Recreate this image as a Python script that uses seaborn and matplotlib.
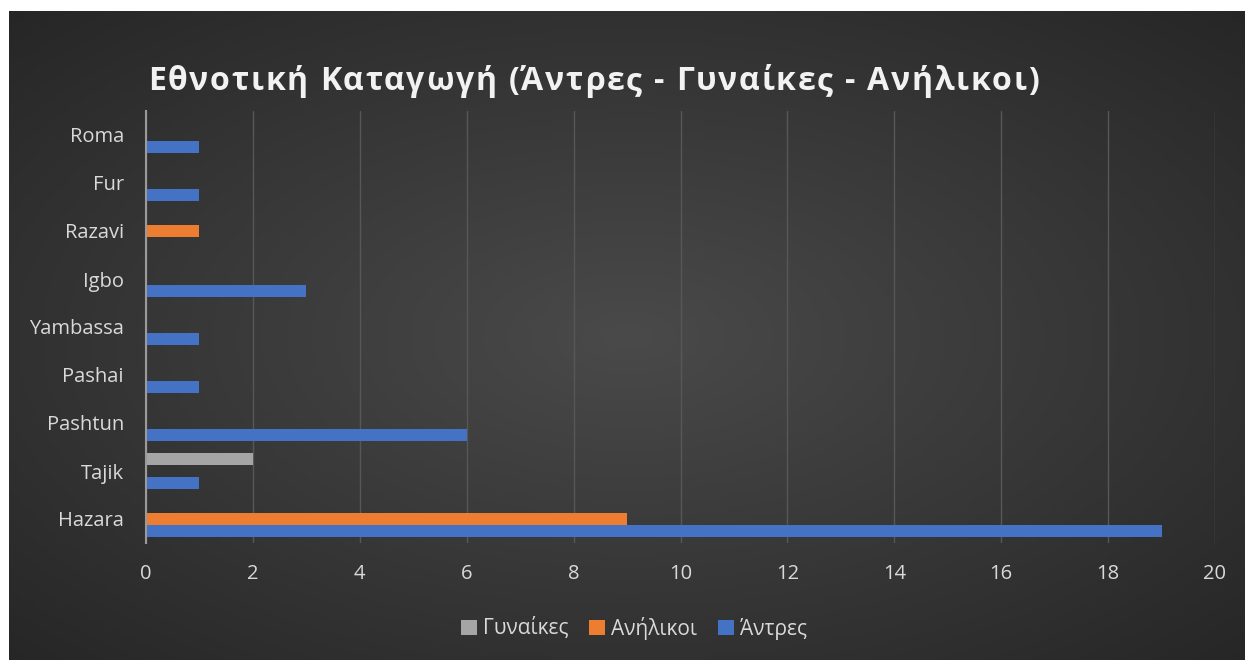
import numpy as np
import pandas as pd
import seaborn as sns
import matplotlib.pyplot as plt
from matplotlib.patches import Patch

sns.set_theme(style="dark")
plt.rcParams['font.family'] = ['Open Sans', 'DejaVu Sans']

# Data (top to bottom as shown)
categories = ['Roma', 'Fur', 'Razavi', 'Igbo', 'Yambassa', 'Pashai', 'Pashtun', 'Tajik', 'Hazara']
men = [1, 1, 0, 3, 1, 1, 6, 1, 19]
minors = [0, 0, 1, 0, 0, 0, 0, 0, 9]
women = [0, 0, 0, 0, 0, 0, 0, 2, 0]
series = ['Γυναίκες', 'Ανήλικοι', 'Άντρες']
colors = ['#A5A5A5', '#ED7D31', '#4472C4']
xticks = [0, 2, 4, 6, 8, 10, 12, 14, 16, 18, 20]
title = 'Εθνοτική Καταγωγή (Άντρες - Γυναίκες - Ανήλικοι)'

df = pd.DataFrame({'Εθνότητα': categories, 'Γυναίκες': women,
                   'Ανήλικοι': minors, 'Άντρες': men})
long = df.melt(id_vars='Εθνότητα', var_name='Ομάδα', value_name='Πλήθος')

fig = plt.figure(figsize=(12.46, 6.6), dpi=100)
fig.patch.set_facecolor('white')

# background panel with radial gradient (Excel dark style)
bg = fig.add_axes([9 / 1246, 0, 1236 / 1246, 1 - 11 / 660], zorder=0)
yy, xx = np.mgrid[0:200, 0:400]
r = np.sqrt(((xx - 200) / 200) ** 2 + ((yy - 100) / 100) ** 2) / np.sqrt(2)
grad = 0.29 - 0.14 * r
bg.imshow(np.dstack([grad] * 3), aspect='auto', extent=[0, 1, 0, 1])
bg.set_axis_off()

ax = fig.add_axes([146 / 1246, 1 - 543 / 660, (1215 - 146) / 1246, (543 - 111) / 660], zorder=1)
ax.set_facecolor('none')

sns.barplot(data=long, y='Εθνότητα', x='Πλήθος', hue='Ομάδα',
            order=categories, hue_order=series, palette=colors,
            width=0.75, orient='h', ax=ax, legend=False, saturation=1,
            edgecolor='none')

ax.set_xlim(0, 20)
ax.set_ylim(8.5, -0.5)
ax.set_xticks(xticks)
ax.grid(axis='x', color='#575757', linewidth=1)
ax.grid(axis='y', visible=False)
ax.set_axisbelow(True)
for s in ['top', 'right', 'bottom']:
    ax.spines[s].set_visible(False)
ax.spines['left'].set_color('#9a9a9a')
ax.spines['left'].set_linewidth(1.5)
ax.tick_params(axis='both', length=0, colors='#d9d9d9', labelsize=14.5)
ax.tick_params(axis='x', pad=15)
ax.tick_params(axis='y', pad=16)
ax.set_xlabel('')
ax.set_ylabel('')

# title with letter spacing: chain characters one after another
anchor = fig.text(148 / 1246, 1 - 90 / 660, title[0], color='#f2f2f2', fontsize=23,
                  fontweight='bold', va='baseline', ha='left')
for ch in title[1:]:
    anchor = ax.annotate(ch, xy=(1, 0), xycoords=anchor, xytext=(1.25, 0),
                         textcoords='offset points', color='#f2f2f2', fontsize=23,
                         fontweight='bold', va='bottom', ha='left',
                         annotation_clip=False)

handles = [Patch(facecolor=c, edgecolor='none') for c in colors]
fig.legend(handles, series, loc='center', bbox_to_anchor=(634 / 1246, 1 - 628 / 660),
           ncol=3, frameon=False, fontsize=15, labelcolor='#d9d9d9',
           handlelength=0.75, handleheight=0.75, handletextpad=0.3, columnspacing=1.0)

fig.savefig('out.png', dpi=100)
